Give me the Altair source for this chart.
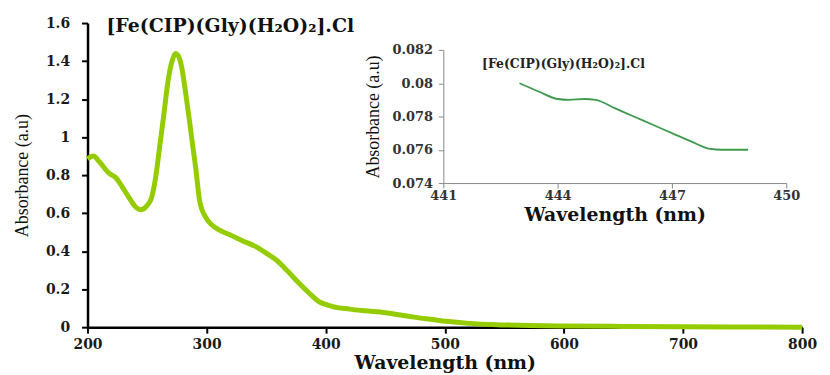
import altair as alt
import pandas as pd

# Main spectrum
wl = [200, 205, 210, 218, 224, 229, 235, 240, 245, 250, 254, 257, 260, 264, 268, 271, 274, 276, 279, 282,
      285, 288, 291, 294, 299, 305, 310, 320, 330, 341, 350, 358, 368, 377, 386, 394, 405, 420, 433, 450,
      460, 474, 490, 501, 520, 550, 600, 650, 700, 750, 800]
absb = [0.885, 0.90, 0.87, 0.81, 0.785, 0.74, 0.68, 0.635, 0.618, 0.64, 0.686, 0.78, 0.92, 1.115, 1.31, 1.40, 1.44, 1.43, 1.37, 1.25,
        1.115, 0.97, 0.83, 0.67, 0.58, 0.535, 0.513, 0.485, 0.455, 0.425, 0.39, 0.356, 0.295, 0.235, 0.18, 0.136, 0.11, 0.095, 0.086, 0.076,
        0.067, 0.053, 0.04, 0.031, 0.02, 0.012, 0.006, 0.004, 0.002, 0.001, 0.0]

# Inset
wl_in = [443, 443.5, 444, 444.3, 444.7, 445, 445.5, 446, 446.5, 447, 447.5, 448, 448.3, 449]
abs_in = [0.0800, 0.0795, 0.07905, 0.0790, 0.07905, 0.0790, 0.0785, 0.0780, 0.0775, 0.0770, 0.0765, 0.07605, 0.0760, 0.0760]

main_df = pd.DataFrame({"wl": wl, "a": absb})
in_df = pd.DataFrame({"wl": wl_in, "a": abs_in})

W, H = 719, 306
BOLD = "DejaVu Serif"
SERIF = "Liberation Serif, Times New Roman, serif"

main = alt.Chart(main_df).mark_line(color="#94cc00", strokeWidth=5, interpolate="monotone").encode(
    x=alt.X("wl:Q", scale=alt.Scale(domain=[200, 800], nice=False),
            axis=alt.Axis(values=[200, 300, 400, 500, 600, 700, 800], title="Wavelength (nm)",
                          orient="bottom", grid=False, domainColor="black", domainWidth=2.5,
                          tickColor="black", tickWidth=2, tickSize=6, labelFont=BOLD, labelFontSize=14,
                          labelFontWeight="bold", labelColor="#1a1a1a", labelPadding=4, labelFlush=False,
                          titleFont=BOLD, titleFontSize=19, titleFontWeight="bold", titleColor="#111",
                          titlePadding=3)),
    y=alt.Y("a:Q", scale=alt.Scale(domain=[0, 1.6], nice=False),
            axis=alt.Axis(values=[0, 0.2, 0.4, 0.6, 0.8, 1, 1.2, 1.4, 1.6], title="Absorbance (a.u)",
                          orient="left", grid=False, domainColor="black", domainWidth=2.5,
                          tickColor="black", tickWidth=2, tickSize=6, labelFont=BOLD, labelFontSize=14,
                          labelFontWeight="bold", labelColor="#1a1a1a", labelPadding=12, labelFlush=False,
                          labelExpr="toString(round(datum.value*10)/10)",
                          titleFont=SERIF, titleFontSize=18, titleFontWeight="normal", titleColor="#111",
                          titlePadding=14)),
)

ix0, ix1 = 358, 703
iy0, iy1 = 161, 27

inset = alt.Chart(in_df).mark_line(color="#3f9a4f", strokeWidth=1.8, interpolate="monotone").encode(
    x=alt.X("wl:Q", scale=alt.Scale(domain=[441, 450], range=[ix0, ix1], nice=False),
            axis=alt.Axis(values=[441, 444, 447, 450], title="Wavelength (nm)", orient="bottom",
                          offset=-(H - iy0), grid=False, domainColor="#888", tickColor="#888",
                          tickSize=5, labelFont=BOLD, labelFontSize=13, labelFontWeight="bold",
                          labelColor="#333", labelPadding=2, labelFlush=False,
                          titleFont=BOLD, titleFontSize=19,
                          titleFontWeight="bold", titleColor="#111", titlePadding=3)),
    y=alt.Y("a:Q", scale=alt.Scale(domain=[0.074, 0.082], range=[iy0, iy1], nice=False),
            axis=alt.Axis(values=[0.074, 0.076, 0.078, 0.08, 0.082], title="Absorbance (a.u)",
                          orient="left", offset=-ix0, grid=False, domainColor="#888", tickColor="#888",
                          tickSize=5, labelFont=BOLD, labelFontSize=13, labelFontWeight="bold",
                          labelColor="#333", labelPadding=6, labelFlush=False,
                          labelExpr="toString(round(datum.value*1000)/1000)",
                          titleFont=SERIF, titleFontSize=18,
                          titleFontWeight="normal", titleColor="#111", titlePadding=10)),
)

title_main = alt.Chart(pd.DataFrame({"t": ["[Fe(CIP)(Gly)(H₂O)₂].Cl"]})).mark_text(
    font=BOLD, fontSize=19, fontWeight="bold", align="left", baseline="middle", color="#111"
).encode(x=alt.value(19), y=alt.value(3), text="t:N")

title_in = alt.Chart(pd.DataFrame({"t": ["[Fe(CIP)(Gly)(H₂O)₂].Cl"]})).mark_text(
    font=BOLD, fontSize=12.5, fontWeight="bold", align="left", baseline="middle", color="#222"
).encode(x=alt.value(397), y=alt.value(41), text="t:N")

chart = alt.layer(main, inset, title_main, title_in).resolve_scale(
    x="independent", y="independent"
).properties(
    width=W, height=H,
    autosize=alt.AutoSizeParams(type="none"),
    padding={"left": 80, "top": 14, "right": 20, "bottom": 51},
).configure_view(stroke=None)

chart.save("out.html", embed_options={"renderer": "svg", "actions": False})
